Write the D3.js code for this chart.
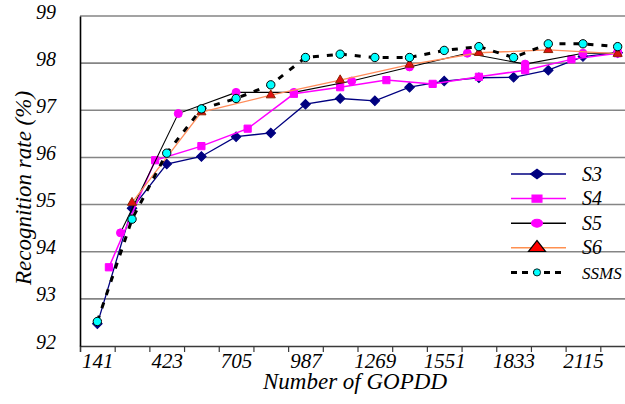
<!DOCTYPE html>
<html>
<head>
<meta charset="utf-8">
<script src="https://cdn.jsdelivr.net/npm/d3@7"></script>
</head>
<body style="margin:0;background:#fff">
<svg width="625" height="404"></svg>
<script>
// tick labels
const xLabels = [141, 423, 705, 987, 1269, 1551, 1833, 2115]
const yTicks = [92, 93, 94, 95, 96, 97, 98, 99]

// S3 and SSMS are measured every 141 GOPDD
const gopdd = [141, 282, 423, 564, 705, 846, 987, 1128, 1269, 1410, 1551, 1692, 1833, 1974, 2115, 2256]
const s3 = [92.47, 94.92, 95.86, 96.02, 96.44, 96.52, 97.13, 97.25, 97.20, 97.49, 97.62, 97.69, 97.70, 97.85, 98.14, 98.22]
const ssms = [92.52, 94.69, 96.09, 97.03, 97.25, 97.54, 98.12, 98.19, 98.12, 98.12, 98.27, 98.35, 98.12, 98.41, 98.41, 98.35]

const s4x = [188, 376, 564, 752, 940, 1128, 1316, 1504, 1692, 1880, 2068, 2256]
const s4 = [93.67, 95.94, 96.24, 96.61, 97.35, 97.49, 97.64, 97.56, 97.71, 97.85, 98.08, 98.21]

const s5x = [235, 470, 705, 940, 1175, 1410, 1645, 1880, 2115, 2256]
const s5 = [94.40, 96.93, 97.38, 97.38, 97.62, 97.92, 98.21, 97.98, 98.21, 98.21]

const s6x = [282, 564, 846, 1128, 1410, 1692, 1974, 2256]
const s6 = [95.04, 96.96, 97.32, 97.64, 97.97, 98.22, 98.28, 98.20]

const FONT = 'Liberation Serif'

const svg = d3.select('svg')
const x = d3.scaleLinear().domain([70.5, 2326.5]).range([80, 635])
const y = d3.scaleLinear().domain([92, 99]).range([346, 16])

// series drawing setup (rot = rotate the square into a diamond)
const series = [
  { name: 'S3', xs: gopdd, ys: s3, line: '#000080', width: 1.3, symbol: d3.symbolSquare, rot: 45, size: 46, fill: '#000080', stroke: '#000080' },
  { name: 'S4', xs: s4x, ys: s4, line: '#FF00FF', width: 1.5, symbol: d3.symbolSquare, size: 52, fill: '#FF00FF', stroke: '#FF00FF' },
  { name: 'S5', xs: s5x, ys: s5, line: '#000000', width: 1.1, symbol: d3.symbolCircle, size: 50, fill: '#FF00FF', stroke: '#FF00FF' },
  { name: 'S6', xs: s6x, ys: s6, line: '#FF8C5A', width: 1.3, symbol: d3.symbolTriangle, size: 36, fill: '#E01010', stroke: '#8B2500' },
  { name: 'SSMS', xs: gopdd, ys: ssms, line: '#000000', width: 3, dash: '6,8', symbol: d3.symbolCircle, size: 55, fill: '#00FFFF', stroke: '#000000' }
]

// gridlines
svg.append('g')
  .selectAll('line')
  .data(yTicks.slice(1))
  .enter()
  .append('line')
  .attr('x1', 80).attr('x2', 635)
  .attr('y1', d => y(d)).attr('y2', d => y(d))
  .attr('stroke', '#858585')
  .attr('stroke-width', 1.6)

// x axis: tick marks between categories, labels on every other category
const xAxis = svg.append('g').attr('transform', 'translate(0,346)')
xAxis.call(d3.axisBottom(x)
  .tickValues(gopdd.slice(1).map(v => v - 70.5))
  .tickSize(6)
  .tickFormat(''))
xAxis.select('.domain').attr('stroke', '#3a3a3a').attr('stroke-width', 1.6)
xAxis.selectAll('.tick line').attr('stroke', '#3a3a3a').attr('stroke-width', 1.2)

const xLab = svg.append('g').attr('transform', 'translate(0,346)')
xLab.call(d3.axisBottom(x).tickValues(xLabels).tickFormat(d3.format('d')).tickSize(0).tickPadding(7))
xLab.attr('font-family', FONT).attr('font-size', 21).attr('font-style', 'italic')
xLab.select('.domain').remove()
xLab.selectAll('text').attr('fill', '#000')

// y axis
const yAxis = svg.append('g').attr('transform', 'translate(80,0)')
yAxis.call(d3.axisLeft(y).tickValues(yTicks).tickFormat(d3.format('d')).tickSize(0).tickPadding(24))
yAxis.attr('font-family', FONT).attr('font-size', 20).attr('font-style', 'italic')
yAxis.select('.domain').attr('stroke', '#000').attr('stroke-width', 1.6)
yAxis.selectAll('text').attr('dy', '0.1em').attr('fill', '#000')

// titles
svg.append('text')
  .attr('x', 355).attr('y', 389)
  .attr('text-anchor', 'middle')
  .attr('font-family', FONT)
  .attr('font-style', 'italic')
  .attr('font-size', 23)
  .text('Number of GOPDD')

svg.append('text')
  .attr('transform', 'translate(31,188) rotate(-90)')
  .attr('text-anchor', 'middle')
  .attr('font-family', FONT)
  .attr('font-style', 'italic')
  .attr('font-size', 23)
  .text('Recognition rate (%)')

// lines and markers
const lineGen = d3.line()
  .x(d => x(d[0]))
  .y(d => y(d[1]))

series.forEach(s => {
  const pts = s.xs.map((v, i) => [v, s.ys[i]])
  const g = svg.append('g')
  g.append('path')
    .attr('d', lineGen(pts))
    .attr('fill', 'none')
    .attr('stroke', s.line)
    .attr('stroke-width', s.width)
    .attr('stroke-dasharray', s.dash || null)
  g.selectAll('path.mark')
    .data(pts)
    .enter()
    .append('path')
    .attr('class', 'mark')
    .attr('d', d3.symbol().type(s.symbol).size(s.size))
    .attr('transform', d => `translate(${x(d[0])},${y(d[1])}) rotate(${s.rot || 0})`)
    .attr('fill', s.fill)
    .attr('stroke', s.stroke)
    .attr('stroke-width', 1)
})

// legend (markers are a bit wider than tall, as in the original)
const legend = svg.append('g')
series.forEach((s, i) => {
  const ly = 174 + i * 24.6
  legend.append('line')
    .attr('x1', 511).attr('x2', 566)
    .attr('y1', ly).attr('y2', ly)
    .attr('stroke', s.name === 'S6' ? '#FF9050' : s.line)
    .attr('stroke-width', s.name === 'SSMS' ? 3 : 1.5)
    .attr('stroke-dasharray', s.dash ? '6,5' : null)
  const scale = s.name === 'SSMS' ? 'scale(0.85,0.85)' : 'scale(1.35,1)'
  legend.append('path')
    .attr('d', d3.symbol().type(s.symbol).size(s.name === 'S6' ? 70 : s.size))
    .attr('transform', `translate(537,${ly}) ${scale} rotate(${s.rot || 0})`)
    .attr('fill', s.name === 'S6' ? '#FF0000' : s.fill)
    .attr('stroke', s.name === 'S6' ? '#000' : s.stroke)
    .attr('stroke-width', 1)
  legend.append('text')
    .attr('x', 582).attr('y', ly + 6.5)
    .attr('font-family', FONT)
    .attr('font-style', 'italic')
    .attr('font-size', s.name === 'SSMS' ? 17 : 20)
    .text(s.name)
})
</script>
</body>
</html>
